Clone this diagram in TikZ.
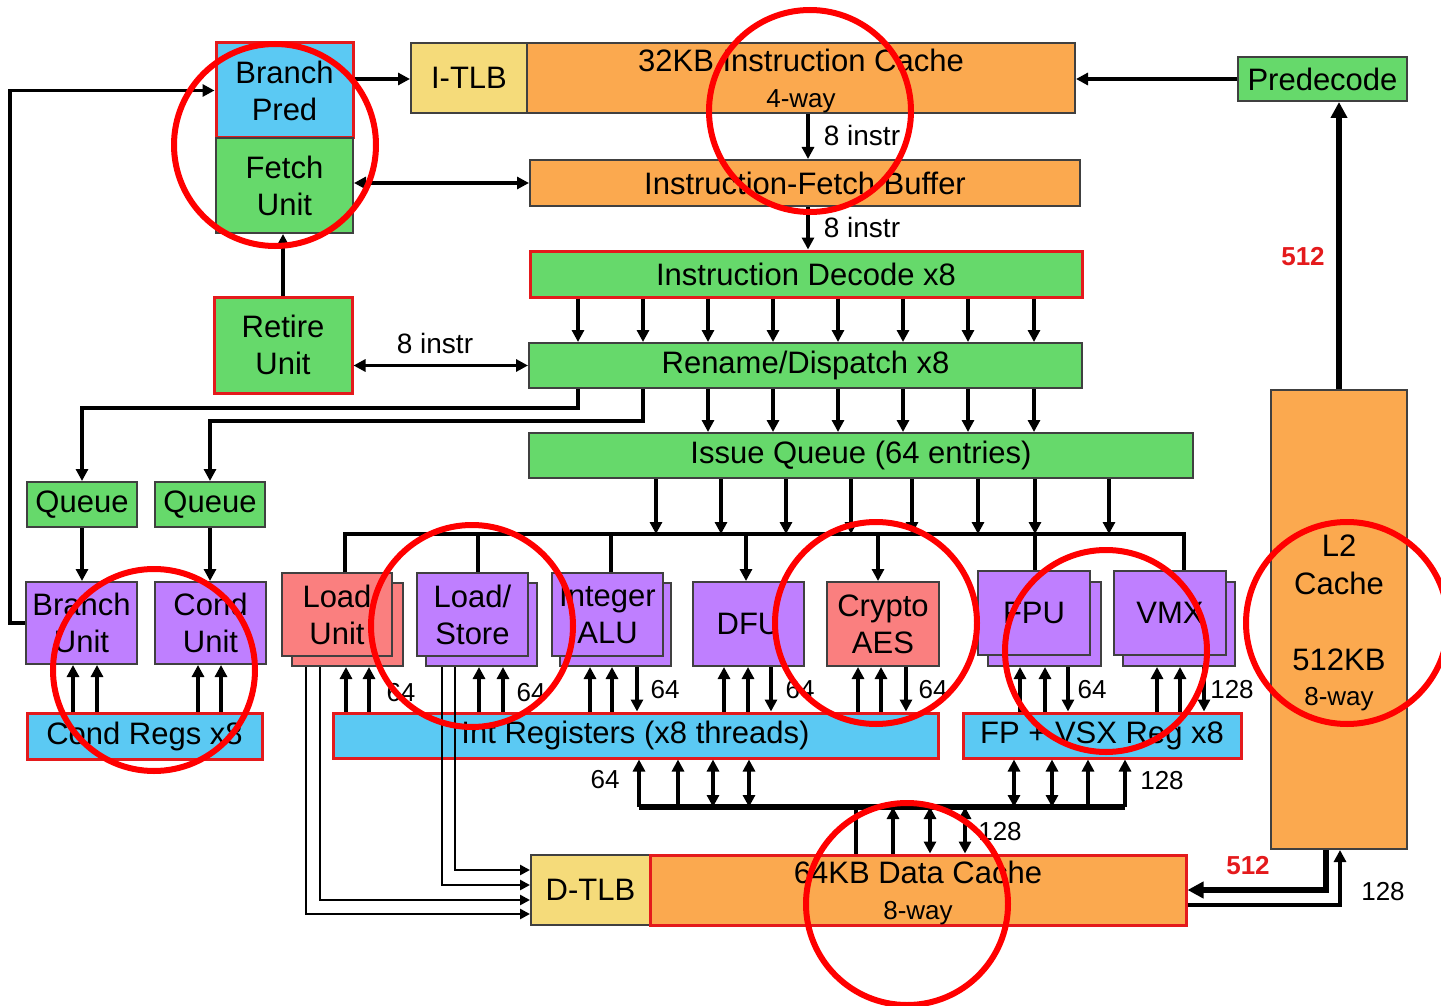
\documentclass[tikz,border=0pt]{standalone}
\usepackage{fontspec}
\setmainfont{Liberation Sans}
\usetikzlibrary{arrows.meta}
\definecolor{cgreen}{HTML}{66D96B}
\definecolor{cblue}{HTML}{5BC9F3}
\definecolor{corange}{HTML}{FBA94F}
\definecolor{cyellow}{HTML}{F5DB7A}
\definecolor{cpurple}{HTML}{BF7FFF}
\definecolor{csalmon}{HTML}{FA7F7F}
\definecolor{cred}{HTML}{E41A1C}
\definecolor{cdark}{HTML}{404040}
\definecolor{cmarkred}{HTML}{FF0000}
\tikzset{
  box/.style={draw=cdark, line width=1pt, inner sep=0pt, align=center, font=\fontsize{15.5}{18.5}\selectfont},
  rbox/.style={box, draw=cred, line width=1.5pt},
  arr/.style={line width=1.8pt, -{Triangle[length=6pt,width=6pt]}},
  darr/.style={line width=1.8pt, {Triangle[length=6pt,width=6pt]}-{Triangle[length=6pt,width=6pt]}},
  tarr/.style={line width=1.3pt, -{Triangle[length=5pt,width=5pt]}},
  wire/.style={line width=1.8pt},
  fatarr/.style={line width=2.6pt, -{Triangle[length=8pt,width=8pt]}},
  lbl/.style={font=\fontsize{13}{15}\selectfont, inner sep=0pt},
  ilbl/.style={font=\fontsize{14}{16}\selectfont, inner sep=0pt},
  redlbl/.style={font=\fontsize{13}{15}\selectfont\bfseries, text=cred, inner sep=0pt},
  ring/.style={draw=cmarkred, line width=3pt},
}
% #1 style, #2 name, #3 x1, #4 y1, #5 x2, #6 y2, #7 text
\newcommand\mybox[7]{%
  \node[#1, minimum width={(#5-#3)*0.5pt}, minimum height={(#6-#4)*0.5pt}] (#2) at ({(#3+#5)/2},{(#4+#6)/2}) {#7};}
\begin{document}
\begin{tikzpicture}[x=0.5pt,y=-0.5pt]
\useasboundingbox (0,0) rectangle (1441,1006);
% ---------- boxes ----------
\mybox{rbox, fill=cblue}{bp}{216}{43}{353}{138}{Branch\\Pred}
\mybox{box, fill=cgreen}{fu}{216}{138}{353}{233}{Fetch\\Unit}
\mybox{rbox, fill=cgreen}{rt}{214}{297}{352}{393}{Retire\\Unit}
\mybox{box, fill=cyellow}{itlb}{411}{43}{527}{113}{I-TLB}
\mybox{box, fill=corange}{ic}{527}{43}{1075}{113}{\rule{0pt}{14pt}32KB Instruction Cache\\[-0.5pt]{\fontsize{13}{15}\selectfont 4-way}}
\mybox{box, fill=cgreen}{pd}{1238}{57}{1407}{101}{Predecode}
\mybox{box, fill=corange}{ifb}{530}{160}{1080}{206}{Instruction-Fetch Buffer}
\mybox{rbox, fill=cgreen}{dec}{530}{251}{1082}{297}{Instruction Decode x8}
\mybox{box, fill=cgreen}{ren}{529}{343}{1082}{388}{Rename/Dispatch x8}
\mybox{box, fill=cgreen}{iq}{529}{433}{1193}{478}{Issue Queue (64 entries)}
\mybox{box, fill=cgreen}{q1}{27}{482}{137}{527}{Queue}
\mybox{box, fill=cgreen}{q2}{155}{482}{265}{527}{Queue}
\mybox{box, fill=cpurple}{bu}{26}{582}{137}{664}{Branch\\Unit}
\mybox{box, fill=cpurple}{cu}{155}{582}{266}{664}{Cond\\Unit}
\mybox{rbox, fill=cblue}{cr}{27}{713}{262}{759}{Cond Regs x8}
\mybox{box, fill=csalmon}{ldb}{292}{583}{403}{666}{}
\mybox{box, fill=csalmon}{ldf}{282}{573}{392}{656}{Load\\Unit}
\mybox{box, fill=cpurple}{lsb}{426}{583}{537}{666}{}
\mybox{box, fill=cpurple}{lsf}{417}{573}{528}{656}{Load/\\Store}
\mybox{box, fill=cpurple}{alb}{560}{583}{671}{666}{}
\mybox{box, fill=cpurple}{alf}{552}{573}{663}{656}{Integer\\ALU}
\mybox{box, fill=cpurple}{dfu}{693}{582}{804}{666}{DFU}
\mybox{box, fill=csalmon}{cry}{827}{582}{939}{666}{Crypto\\AES}
\mybox{box, fill=cpurple}{fpb}{988}{582}{1101}{666}{}
\mybox{box, fill=cpurple}{fpf}{978}{571}{1090}{655}{FPU}
\mybox{box, fill=cpurple}{vmb}{1123}{582}{1235}{666}{}
\mybox{box, fill=cpurple}{vmf}{1114}{571}{1226}{655}{VMX}
\mybox{rbox, fill=cblue}{ir}{333}{713}{938}{758}{Int Registers (x8 threads)}
\mybox{rbox, fill=cblue}{fr}{963}{713}{1241}{758}{FP + VSX Reg x8}
\mybox{box, fill=cyellow}{dtlb}{531}{855}{650}{925}{D-TLB}
\mybox{rbox, fill=corange}{dc}{650}{855}{1186}{925}{\rule{0pt}{14pt}64KB Data Cache\\[-0.5pt]{\fontsize{13}{15}\selectfont 8-way}}
\mybox{box, fill=corange}{l2}{1271}{390}{1407}{849}{\rule{0pt}{14pt}L2\\[0.5pt]Cache\\[19.5pt]512KB\\[-1pt]{\fontsize{13}{15}\selectfont 8-way}}
% ---------- front end ----------
\draw[arr] (bp.east |- 0,79) -- (itlb.west |- 0,79);
\draw[darr] (fu.east |- ifb.west) -- (ifb.west);
\draw[arr] (rt.north) -- (rt.north |- fu.south);
\draw[arr] (pd.west) -- (ic.east |- pd.west);
\draw[arr] (ic.south -| 808,0) -- (ifb.north -| 808,0);
\draw[arr] (ifb.south -| 808,0) -- (dec.north -| 808,0);
\foreach \x in {578,643,708,773,838,903,968,1034}
  \draw[arr] (dec.south -| \x,0) -- (ren.north -| \x,0);
\foreach \x in {708,773,838,903,968,1034}
  \draw[arr] (ren.south -| \x,0) -- (iq.north -| \x,0);
\draw[darr] (rt.east |- ren.west) -- (ren.west);
\draw[arr] (ren.south -| 578,0) |- (q1.north |- 0,408) -- (q1.north);
\draw[arr] (ren.south -| 643,0) |- (q2.north |- 0,421) -- (q2.north);
\draw[arr] (q1.south) -- (q1.south |- bu.north);
\draw[arr] (q2.south) -- (q2.south |- cu.north);
\draw[arr] (bu.west) -- (bu.west -| 10,0) |- (bp.west);
\foreach \x in {73,97} \draw[arr] (cr.north -| \x,0) -- (bu.south -| \x,0);
\foreach \x in {198,221} \draw[arr] (cr.north -| \x,0) -- (cu.south -| \x,0);
% ---------- issue bus ----------
\coordinate (ibL) at (345,534);
\coordinate (ibR) at (1184,534);
\foreach \x in {656,721,786,851,912,978,1035,1109}
  \draw[arr] (iq.south -| \x,0) -- (ibL -| \x,0);
\draw[wire] (ldf.north -| ibL) -- (ibL) -- (ibR) -- (vmf.north -| ibR);
\draw[wire] (ibL -| 478,0) -- (lsf.north -| 478,0);
\draw[wire] (ibL -| 611,0) -- (alf.north -| 611,0);
\draw[wire] (ibL -| 1035,0) -- (fpf.north -| 1035,0);
\draw[arr] (ibL -| 746,0) -- (dfu.north -| 746,0);
\draw[arr] (ibL -| 878,0) -- (cry.north -| 878,0);
% ---------- units <-> registers ----------
\foreach \x in {346,369} \draw[arr] (ir.north -| \x,0) -- (ldb.south -| \x,0);
\foreach \x in {479,503} \draw[arr] (ir.north -| \x,0) -- (lsb.south -| \x,0);
\foreach \x in {590,612} \draw[arr] (ir.north -| \x,0) -- (alb.south -| \x,0);
\draw[arr] (alb.south -| 637,0) -- (ir.north -| 637,0);
\foreach \x in {724,748} \draw[arr] (ir.north -| \x,0) -- (dfu.south -| \x,0);
\draw[arr] (dfu.south -| 771,0) -- (ir.north -| 771,0);
\foreach \x in {858,881} \draw[arr] (ir.north -| \x,0) -- (cry.south -| \x,0);
\draw[arr] (cry.south -| 906,0) -- (ir.north -| 906,0);
\foreach \x in {1020,1045} \draw[arr] (fr.north -| \x,0) -- (fpb.south -| \x,0);
\draw[arr] (fpb.south -| 1068,0) -- (fr.north -| 1068,0);
\foreach \x in {1157,1180} \draw[arr] (fr.north -| \x,0) -- (vmb.south -| \x,0);
\draw[arr] (vmb.south -| 1204,0) -- (fr.north -| 1204,0);
% ---------- load paths to D-TLB ----------
\draw[tarr] (ldb.south -| 306,0) |- (dtlb.west |- 0,914);
\draw[tarr] (ldb.south -| 320,0) |- (dtlb.west |- 0,900);
\draw[tarr] (lsb.south -| 442,0) |- (dtlb.west |- 0,885);
\draw[tarr] (lsb.south -| 455,0) |- (dtlb.west |- 0,870);
% ---------- register / cache bus ----------
\coordinate (rbL) at (639,807);
\coordinate (rbR) at (1125,807);
\draw[line width=2.8pt] (rbL) -- (rbR);
\draw[arr] (rbL) -- (ir.south -| rbL);
\draw[arr] (rbL -| 678,0) -- (ir.south -| 678,0);
\draw[darr] (rbL -| 713,0) -- (ir.south -| 713,0);
\draw[darr] (rbL -| 749,0) -- (ir.south -| 749,0);
\draw[darr] (rbL -| 1014,0) -- (fr.south -| 1014,0);
\draw[darr] (rbL -| 1052,0) -- (fr.south -| 1052,0);
\draw[arr] (rbL -| 1088,0) -- (fr.south -| 1088,0);
\draw[arr] (rbR) -- (fr.south -| rbR);
\draw[wire] (dc.north -| 856,0) -- (rbL -| 856,0);
\draw[arr] (dc.north -| 893,0) -- (rbL -| 893,0);
\draw[darr] (dc.north -| 930,0) -- (rbL -| 930,0);
\draw[darr] (dc.north -| 965,0) -- (rbL -| 965,0);
% ---------- L2 ----------
\draw[fatarr] (l2.north) -- (l2.north |- pd.south);
\draw[fatarr] (l2.south -| 1326,0) |- (dc.east |- 0,890);
\draw[arr] (dc.east |- 0,905) -| (l2.south -| 1340,0);
% ---------- labels ----------
\node[ilbl] (li1) at (862,135) {8 instr};
\node[ilbl] (li2) at (862,227) {8 instr};
\node[ilbl] (li3) at (435,343) {8 instr};
\node[redlbl] (r1) at (1303,257) {512};
\node[redlbl] (r2) at (1248,866) {512};
\node[lbl] (w1) at (401,693) {64};
\node[lbl] (w2) at (531,693) {64};
\node[lbl] (w3) at (665,690) {64};
\node[lbl] (w4) at (800,690) {64};
\node[lbl] (w5) at (933,690) {64};
\node[lbl] (w6) at (1092,690) {64};
\node[lbl] (w7) at (1232,690) {128};
\node[lbl] (w8) at (605,780) {64};
\node[lbl] (w9) at (1162,781) {128};
\node[lbl] (w10) at (1000,832) {128};
\node[lbl] (w11) at (1383,892) {128};
% ---------- annotation rings ----------
\foreach \c in {(275,145),(810,111),(154,670),(472,626),(876,623),(1106,651),(1347,623),(907,904)}
  \draw[ring] \c circle[radius=50.5pt];
\end{tikzpicture}
\end{document}
